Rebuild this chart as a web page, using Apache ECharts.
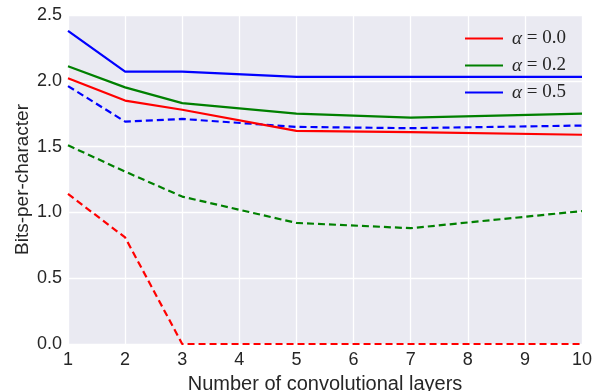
<!DOCTYPE html>
<html><head><meta charset="utf-8">
<script src="https://cdn.jsdelivr.net/npm/echarts@6/dist/echarts.min.js"></script>
<style>html,body{margin:0;padding:0;background:#fff}#c{width:593px;height:391px}</style>
</head><body><div id="c"></div>
<script>
const layers = [1, 2, 3, 5, 7, 10];
const solid00 = [2.02, 1.85, 1.78, 1.62, 1.61, 1.59];
const solid02 = [2.11, 1.95, 1.83, 1.75, 1.72, 1.75];
const solid05 = [2.38, 2.07, 2.07, 2.03, 2.03, 2.03];
const dashed00 = [1.14, 0.81, 0.0, 0.0, 0.0, 0.0];
const dashed02 = [1.51, 1.31, 1.12, 0.92, 0.88, 1.01];
const dashed05 = [1.96, 1.69, 1.71, 1.65, 1.64, 1.66];
const legendNames = ['α=0.0', 'α=0.2', 'α=0.5'];
const colors = ['#ff0000', '#008000', '#0000ff'];

const pair = (ys) => layers.map((x, i) => [x, ys[i]]);
const txt = '#262626';
const font = 'Liberation Sans, Arial, sans-serif';

function line(name, ys, color, dashed) {
  return {
    name, type: 'line', data: pair(ys), symbol: 'none', silent: true,
    lineStyle: { color, width: 2.2, type: dashed ? [7, 4] : 'solid' },
    itemStyle: { color }, animation: false, z: dashed ? 2 : 3
  };
}

const chart = echarts.init(document.getElementById('c'));
chart.setOption({
  animation: false,
  grid: { left: 68, right: 11, top: 15, bottom: 47, show: true, backgroundColor: '#EAEAF2', borderWidth: 0, containLabel: false, outerBoundsMode: 'none' },
  xAxis: {
    type: 'value', min: 1, max: 10, interval: 1,
    name: 'Number of convolutional layers', nameLocation: 'middle', nameGap: 30, nameMoveOverlap: false,
    nameTextStyle: { color: txt, fontSize: 20, fontFamily: font },
    axisLine: { show: false }, axisTick: { show: false },
    axisLabel: { color: txt, fontSize: 18, fontFamily: font, margin: 7 },
    splitLine: { lineStyle: { color: '#ffffff', width: 1.3 } }
  },
  yAxis: {
    type: 'value', min: 0, max: 2.5, interval: 0.5,
    name: 'Bits-per-character', nameLocation: 'middle', nameGap: 36, nameMoveOverlap: false,
    nameTextStyle: { color: txt, fontSize: 19, fontFamily: font },
    axisLine: { show: false }, axisTick: { show: false },
    axisLabel: { color: txt, fontSize: 18, fontFamily: font, margin: 6, formatter: v => v.toFixed(1) },
    splitLine: { lineStyle: { color: '#ffffff', width: 1.3 } }
  },
  legend: {
    data: legendNames, orient: 'vertical', left: 460, top: 24,
    icon: 'rect', itemWidth: 38, itemHeight: 2, itemGap: 8,
    formatter: n => '{a|α}{n| = ' + n.split('=')[1] + '}',
    textStyle: {
      color: txt, lineHeight: 18, padding: [0, 0, 0, 4],
      rich: {
        a: { fontFamily: 'Liberation Serif', fontStyle: 'italic', fontSize: 19, color: txt },
        n: { fontFamily: 'Liberation Serif', fontSize: 19, color: txt }
      }
    }
  },
  series: [
    line(legendNames[0], solid00, colors[0], false),
    line(legendNames[1], solid02, colors[1], false),
    line(legendNames[2], solid05, colors[2], false),
    line('d0', dashed00, colors[0], true),
    line('d2', dashed02, colors[1], true),
    line('d5', dashed05, colors[2], true)
  ]
});
</script></body></html>
